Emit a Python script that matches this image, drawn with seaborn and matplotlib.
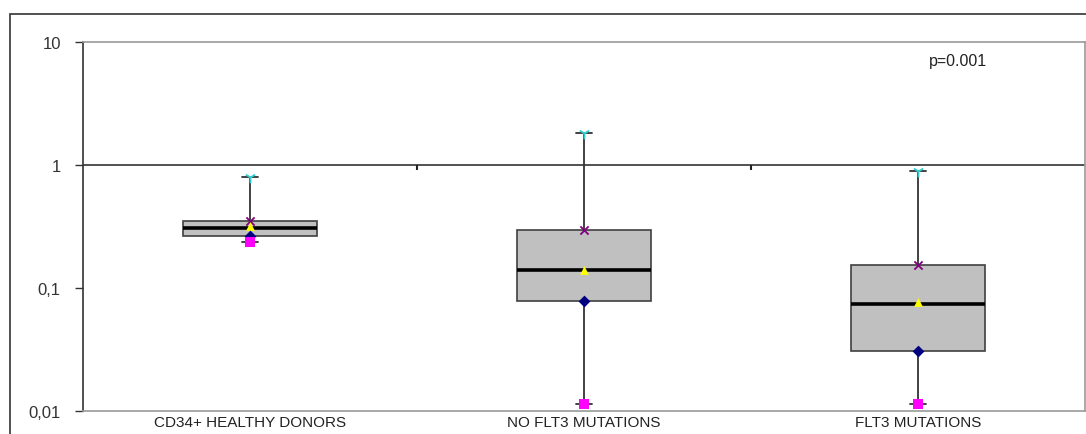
import numpy as np
import matplotlib
matplotlib.use("Agg")
import matplotlib.pyplot as plt
import seaborn as sns
from matplotlib.patches import Rectangle
from matplotlib.ticker import FixedLocator, NullLocator

# values (log scale)
groups = ["CD34+ HEALTHY DONORS", "NO FLT3 MUTATIONS", "FLT3 MUTATIONS"]
max_vals = [0.80, 1.82, 0.89]
q3_vals = [0.35, 0.295, 0.153]
median_vals = [0.307, 0.139, 0.0736]
mean_vals = [0.32, 0.14, 0.077]
q1_vals = [0.264, 0.078, 0.0305]
min_vals = [0.236, 0.0113, 0.0113]

y_ticks = [0.01, 0.1, 1, 10]
y_labels = ["0,01", "0,1", "1", "10"]

sns.set_style("white")
plt.rcParams["font.family"] = ["Liberation Sans", "DejaVu Sans"]

fig = plt.figure(figsize=(10.86, 4.35), dpi=100)
ax = fig.add_axes([83 / 1086, 1 - 412 / 435, 1002 / 1086, 369 / 435])

# outer chart border
fig.patches.append(Rectangle((10 / 1086, -0.2), 1.2, 1.2 - 15 / 435, transform=fig.transFigure,
                             fill=False, edgecolor="#333333", linewidth=1.2, zorder=0))

stats = []
for i, g in enumerate(groups):
    stats.append(dict(label=g, whislo=min_vals[i], q1=q1_vals[i], med=median_vals[i],
                      q3=q3_vals[i], whishi=max_vals[i], fliers=[]))

pos = np.arange(len(groups))
ax.bxp(stats, positions=pos, widths=0.4, patch_artist=True, showfliers=False,
       boxprops=dict(facecolor="#C0C0C0", edgecolor="#404040", linewidth=1.2),
       medianprops=dict(color="black", linewidth=2.6),
       whiskerprops=dict(color="#333333", linewidth=1.3),
       capprops=dict(color="#333333", linewidth=1.3), capwidths=0.05, zorder=2)

# stat markers
sns.scatterplot(x=pos, y=max_vals, marker="1", color="#33CCCC", s=70, linewidth=1.3, ax=ax, zorder=4)
sns.scatterplot(x=pos, y=q3_vals, marker="x", color="#800080", s=35, linewidth=1.3, ax=ax, zorder=4)
sns.scatterplot(x=pos, y=mean_vals, marker="^", color="#FFFF00", s=40, linewidth=0, ax=ax, zorder=4)
sns.scatterplot(x=pos, y=q1_vals, marker="D", color="#000080", s=36, linewidth=0, ax=ax, zorder=4)
sns.scatterplot(x=pos, y=min_vals, marker="s", color="#FF00FF", s=50, linewidth=0, ax=ax, zorder=4)

ax.set_yscale("log")
ax.set_ylim(0.01, 10)
ax.set_xlim(-0.5, 2.5)
ax.yaxis.set_major_locator(FixedLocator(y_ticks))
ax.yaxis.set_minor_locator(NullLocator())
ax.set_yticklabels(y_labels)
ax.set_xticks(pos)
ax.set_xticklabels(groups)
ax.tick_params(axis="y", direction="out", length=6, width=1, color="#333333",
               labelsize=12, labelcolor="#333333", pad=10, left=True)
ax.tick_params(axis="x", length=0, labelsize=11, labelcolor="#222222", pad=3)

# category axis crossing at 1, with divider ticks
ax.axhline(1, color="#333333", linewidth=1.2, zorder=1)
ax.vlines([0.5, 1.5], 0.91, 1, color="#222222", linewidth=1.5, zorder=1)

for side in ["top", "right", "bottom"]:
    ax.spines[side].set_color("#999999")
    ax.spines[side].set_linewidth(1.2)
ax.spines["left"].set_color("#333333")
ax.spines["left"].set_linewidth(1.2)

ax.text(0.873, 0.949, "p=0.001", transform=ax.transAxes, ha="center", va="center",
        fontsize=11.5, color="#222222")

fig.savefig("out.png", dpi=100)
